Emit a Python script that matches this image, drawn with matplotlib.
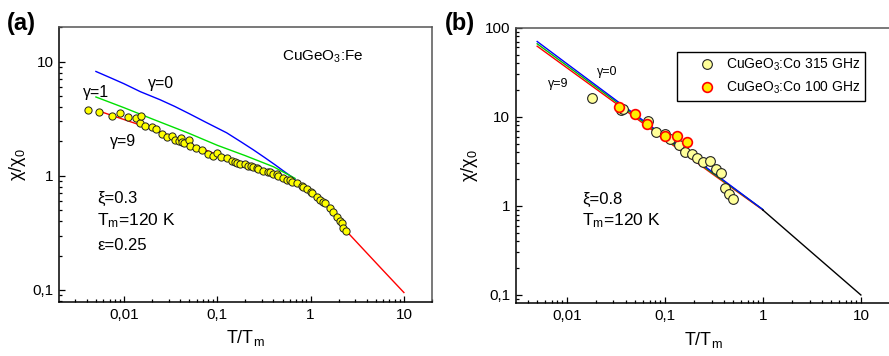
import matplotlib
matplotlib.use("Agg")
import matplotlib.pyplot as plt
from matplotlib.ticker import FixedLocator, NullFormatter, LogLocator
from matplotlib.lines import Line2D

plt.rcParams['font.family'] = ['Liberation Sans', 'DejaVu Sans']
plt.rcParams['mathtext.default'] = 'regular'

# ---------------- panel (a): CuGeO3:Fe ----------------
fe_t = [0.00408, 0.0054, 0.0075, 0.0091, 0.0111, 0.0135, 0.0148, 0.0151, 0.0168, 0.0198,
        0.0220, 0.0254, 0.0287, 0.0330, 0.0352, 0.0392, 0.0406, 0.0415, 0.0440, 0.0500,
        0.0510, 0.0591, 0.0681, 0.0801, 0.0906, 0.100, 0.109, 0.126, 0.143, 0.155,
        0.164, 0.175, 0.198, 0.215, 0.228, 0.243, 0.264, 0.275, 0.311, 0.352,
        0.367, 0.398, 0.433, 0.451, 0.510, 0.555, 0.601, 0.627, 0.709, 0.80,
        0.836, 0.908, 1.00, 1.03, 1.16, 1.26, 1.37, 1.43, 1.61, 1.75,
        1.91, 2.07, 2.15, 2.24, 2.38]
fe_chi = [3.79, 3.62, 3.31, 3.55, 3.27, 3.21, 2.90, 3.31, 2.75, 2.65,
          2.57, 2.32, 2.18, 2.21, 2.07, 2.00, 2.14, 1.96, 1.94, 2.07,
          1.81, 1.75, 1.67, 1.56, 1.50, 1.58, 1.46, 1.42, 1.35, 1.31,
          1.29, 1.27, 1.27, 1.22, 1.21, 1.19, 1.17, 1.15, 1.11, 1.07,
          1.09, 1.04, 1.04, 1.00, 0.955, 0.92, 0.923, 0.89, 0.863, 0.817,
          0.806, 0.764, 0.728, 0.714, 0.658, 0.615, 0.595, 0.576, 0.521, 0.486,
          0.440, 0.406, 0.385, 0.348, 0.331]

g0_t = [0.005, 0.0075, 0.01, 0.015, 0.0243, 0.035, 0.05, 0.075, 0.126, 0.18,
        0.243, 0.32, 0.415, 0.53, 0.68]
g0_chi = [8.2, 7.1, 6.4, 5.45, 4.64, 4.05, 3.5, 2.95, 2.38, 1.98,
          1.69, 1.45, 1.25, 1.08, 0.935]
g1_t = [0.005, 0.01, 0.02, 0.05, 0.1, 0.2, 0.4, 0.68]
g1_chi = [4.9, 3.95, 3.15, 2.35, 1.85, 1.5, 1.2, 0.95]
g9_t = [0.0055, 0.01, 0.0137, 0.02, 0.05, 0.1, 0.2, 0.4, 0.7, 1.0, 1.5, 2.4, 4.0, 6.0, 10.0]
g9_chi = [3.67, 3.11, 2.85, 2.6, 1.92, 1.53, 1.27, 1.04, 0.86, 0.73, 0.54, 0.33, 0.211, 0.148, 0.095]

# ---------------- panel (b): CuGeO3:Co ----------------
co315_t = [0.0181, 0.0356, 0.0379, 0.0676, 0.0815, 0.100, 0.113, 0.139, 0.162, 0.189,
           0.212, 0.244, 0.290, 0.334, 0.376, 0.415, 0.453, 0.498]
co315_chi = [16.1, 11.8, 12.1, 9.0, 6.7, 6.4, 5.7, 4.8, 4.03, 3.79,
             3.42, 3.13, 3.22, 2.61, 2.32, 1.60, 1.36, 1.19]
co100_t = [0.034, 0.0498, 0.066, 0.100, 0.132, 0.167]
co100_chi = [12.9, 10.7, 8.3, 6.08, 6.08, 5.15]

b_t = [0.005, 0.01, 0.03, 0.1, 0.3, 1.0]
b_g0 = [70, 39.6, 16.1, 6.0, 2.44, 0.91]
b_g1 = [66, 37.6, 15.5, 5.8, 2.38, 0.91]
b_g9 = [62, 35.6, 14.8, 5.6, 2.32, 0.90]
b_hi_t = [1.0, 3.0, 10.0]
b_hi_chi = [0.90, 0.315, 0.10]

legend_labels = ['CuGeO$_3$:Co 315 GHz', 'CuGeO$_3$:Co 100 GHz']

W, H = 889, 356
fig = plt.figure(figsize=(W / 100, H / 100), dpi=100)

axA = fig.add_axes([59 / W, 1 - 302 / H, 373 / W, 275 / H])
axB = fig.add_axes([515.7 / W, 1 - 303 / H, 374.7 / W, 275.3 / H])


def style_axis(ax, xlim, ylim, yticks, ylabels):
    ax.set_xscale('log')
    ax.set_yscale('log')
    ax.set_xlim(*xlim)
    ax.set_ylim(*ylim)
    ax.xaxis.set_major_locator(FixedLocator([0.01, 0.1, 1, 10]))
    ax.set_xticklabels(['0,01', '0,1', '1', '10'])
    ax.yaxis.set_major_locator(FixedLocator(yticks))
    ax.set_yticklabels(ylabels)
    ax.xaxis.set_minor_locator(LogLocator(base=10, subs=range(2, 10), numticks=20))
    ax.yaxis.set_minor_locator(LogLocator(base=10, subs=range(2, 10), numticks=20))
    ax.xaxis.set_minor_formatter(NullFormatter())
    ax.yaxis.set_minor_formatter(NullFormatter())
    ax.tick_params(which='both', direction='in', top=False, right=False,
                   labelsize=11, width=0.9, color='black', pad=4)
    ax.tick_params(which='major', length=4.5)
    ax.tick_params(which='minor', length=2.5)
    for s in ('left', 'bottom'):
        ax.spines[s].set_color('black')
        ax.spines[s].set_linewidth(1.1)
    for s in ('top', 'right'):
        ax.spines[s].set_color('#555555')
        ax.spines[s].set_linewidth(1.1)
    ax.set_xlabel('T/T$_m$', fontsize=13, labelpad=5)
    ax.set_ylabel('χ/χ$_0$', fontsize=13, labelpad=3)


# panel (a)
style_axis(axA, (0.00201, 20), (0.0785, 20.1), [0.1, 1, 10], ['0,1', '1', '10'])
axA.plot(g0_t, g0_chi, color='#0000FF', lw=1.0, zorder=2)
axA.plot(g1_t, g1_chi, color='#00E000', lw=1.0, zorder=2)
axA.plot(g9_t, g9_chi, color='#FF0000', lw=1.0, zorder=3)
axA.plot(fe_t, fe_chi, ls='none', marker='o', ms=5.2, mfc='#FFFF00', mec='#222222',
         mew=0.7, zorder=4)

axA.text(0.598, 0.876, 'CuGeO$_3$:Fe', transform=axA.transAxes, fontsize=11, va='baseline')
axA.text(0.239, 0.778, 'γ=0', transform=axA.transAxes, fontsize=11.5, va='baseline')
axA.text(0.064, 0.747, 'γ=1', transform=axA.transAxes, fontsize=11.5, va='baseline')
axA.text(0.137, 0.567, 'γ=9', transform=axA.transAxes, fontsize=11.5, va='baseline')
axA.text(0.102, 0.36, 'ξ=0.3', transform=axA.transAxes, fontsize=12, va='baseline')
axA.text(0.102, 0.28, 'T$_m$=120 K', transform=axA.transAxes, fontsize=12.5, va='baseline')
axA.text(0.102, 0.189, 'ε=0.25', transform=axA.transAxes, fontsize=12, va='baseline')

# panel (b)
style_axis(axB, (0.00302, 20), (0.0813, 100), [0.1, 1, 10, 100], ['0,1', '1', '10', '100'])
axB.spines['right'].set_visible(False)
axB.plot(b_t, b_g9, color='#FF0000', lw=1.0, zorder=2)
axB.plot(b_t, b_g1, color='#00C000', lw=1.0, zorder=2)
axB.plot(b_t, b_g0, color='#0000FF', lw=1.0, zorder=2)
axB.plot(b_hi_t, b_hi_chi, color='black', lw=1.0, zorder=2)
axB.plot(co315_t, co315_chi, ls='none', marker='o', ms=7, mfc='#FFFF99', mec='#222222',
         mew=0.8, zorder=4)
axB.plot(co100_t, co100_chi, ls='none', marker='o', ms=7, mfc='#FFEE00', mec='#FF0000',
         mew=1.2, zorder=5)

axB.text(0.218, 0.828, 'γ=0', transform=axB.transAxes, fontsize=9, va='baseline')
axB.text(0.087, 0.783, 'γ=9', transform=axB.transAxes, fontsize=9, va='baseline')
axB.text(0.178, 0.36, 'ξ=0.8', transform=axB.transAxes, fontsize=12, va='baseline')
axB.text(0.178, 0.283, 'T$_m$=120 K', transform=axB.transAxes, fontsize=12.5, va='baseline')

handles = [
    Line2D([], [], ls='none', marker='o', ms=7, mfc='#FFFF99', mec='#222222', mew=0.8),
    Line2D([], [], ls='none', marker='o', ms=7, mfc='#FFEE00', mec='#FF0000', mew=1.2),
]
leg = axB.legend(handles, legend_labels, loc='upper left', bbox_to_anchor=(0.431, 0.911),
                 borderaxespad=0, fontsize=10, frameon=True, fancybox=False,
                 edgecolor='black', framealpha=1, borderpad=0.35, labelspacing=0.45,
                 handlelength=3.6, handletextpad=-0.45)
leg.get_frame().set_linewidth(1.0)

fig.text(7 / W, 1 - 30 / H, '(a)', fontsize=17, fontweight='bold', va='baseline')
fig.text(445 / W, 1 - 30 / H, '(b)', fontsize=17, fontweight='bold', va='baseline')

fig.savefig('out.png', dpi=100)
